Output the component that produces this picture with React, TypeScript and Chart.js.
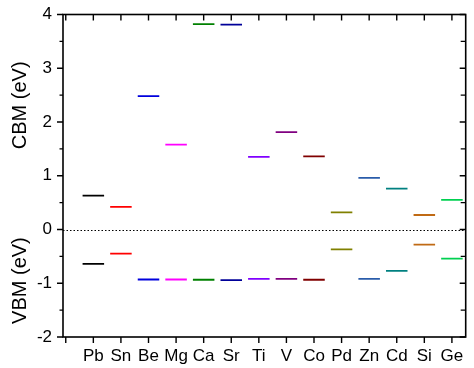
import React, { useEffect, useRef } from "react";
import { Chart, registerables } from "chart.js";

Chart.register(...registerables);

const elements = ["Pb", "Sn", "Be", "Mg", "Ca", "Sr", "Ti", "V", "Co", "Pd", "Zn", "Cd", "Si", "Ge"];
const cbm = [0.63, 0.42, 2.48, 1.58, 3.82, 3.81, 1.35, 1.81, 1.36, 0.32, 0.96, 0.76, 0.27, 0.55];
const vbm = [-0.64, -0.45, -0.93, -0.93, -0.935, -0.94, -0.92, -0.92, -0.935, -0.37, -0.92, -0.77, -0.28, -0.54];
const colors = [
  "#000000", "#ff0000", "#0000dd", "#ff00ff", "#008000", "#000099", "#8000ff",
  "#800080", "#800000", "#808000", "#2a5caa", "#008080", "#c06a14", "#00d050",
];
const yTicks = [-2, -1, 0, 1, 2, 3, 4];

const HALF = 0.39;
const FONT = "'Liberation Sans', Arial, sans-serif";

export default function App() {
  const ref = useRef<HTMLCanvasElement | null>(null);

  useEffect(() => {
    if (!ref.current) return;
    const datasets: any[] = [];
    elements.forEach((_, i) => {
      [cbm[i], vbm[i]].forEach((v) => {
        datasets.push({
          type: "line",
          data: [
            { x: i + 1 - HALF, y: v },
            { x: i + 1 + HALF, y: v },
          ],
          borderColor: colors[i],
          borderWidth: 1.8,
          pointRadius: 0,
          fill: false,
        });
      });
    });

    const framePlugin = {
      id: "frame",
      afterDraw(chart: any) {
        const ctx = chart.ctx;
        const { left, right, top, bottom } = chart.chartArea;
        const xs = chart.scales.x;
        const ys = chart.scales.y;
        ctx.save();
        // dotted zero line
        ctx.strokeStyle = "#000";
        ctx.lineWidth = 1;
        ctx.setLineDash([1.5, 2]);
        const y0 = Math.round(ys.getPixelForValue(0)) + 0.5;
        ctx.beginPath();
        ctx.moveTo(left, y0);
        ctx.lineTo(right, y0);
        ctx.stroke();
        ctx.setLineDash([]);
        // frame
        ctx.lineWidth = 1.6;
        ctx.strokeRect(left, top, right - left, bottom - top);
        // x ticks
        ctx.lineWidth = 1.4;
        ctx.beginPath();
        for (let i = 0; i <= elements.length; i++) {
          const px = xs.getPixelForValue(i);
          ctx.moveTo(px, bottom);
          ctx.lineTo(px, bottom + 6);
          ctx.moveTo(px, top);
          ctx.lineTo(px, top + 6);
        }
        // y ticks
        for (let v = -2; v <= 4; v += 0.5) {
          const py = ys.getPixelForValue(v);
          const major = Number.isInteger(v);
          const len = major ? 6 : 3.5;
          ctx.moveTo(left, py);
          ctx.lineTo(left - len, py);
          ctx.moveTo(right, py);
          ctx.lineTo(right - (major ? 6 : 5), py);
        }
        ctx.stroke();
        // axis titles
        ctx.fillStyle = "#000";
        ctx.font = `20px ${FONT}`;
        ctx.textAlign = "center";
        ctx.textBaseline = "middle";
        const titles: [string, number][] = [
          ["CBM (eV)", 2.31],
          ["VBM (eV)", -0.95],
        ];
        titles.forEach(([t, v]) => {
          ctx.save();
          ctx.translate(20, ys.getPixelForValue(v));
          ctx.rotate(-Math.PI / 2);
          ctx.fillText(t, 0, 0);
          ctx.restore();
        });
        ctx.restore();
      },
    };

    const chart = new Chart(ref.current, {
      type: "line",
      data: { datasets },
      options: {
        animation: false,
        responsive: true,
        maintainAspectRatio: false,
        layout: { padding: { left: 0, right: 8.3, top: 14.5, bottom: 0 } },
        plugins: { legend: { display: false }, tooltip: { enabled: false } },
        scales: {
          x: {
            type: "linear",
            min: -0.1,
            max: 14.5,
            grid: { display: false, drawTicks: false },
            border: { display: false },
            afterFit: (s: any) => {
              s.height = 31;
              s.paddingLeft = 0;
              s.paddingRight = 0;
            },
            afterBuildTicks: (s: any) => {
              s.ticks = [];
              for (let i = 1; i <= elements.length; i++) s.ticks.push({ value: i });
            },
            ticks: {
              autoSkip: false,
              maxRotation: 0,
              padding: 9,
              color: "#000",
              font: { family: FONT, size: 17 },
              callback: (v: any) => elements[Number(v) - 1] ?? "",
            },
          },
          y: {
            type: "linear",
            min: -2,
            max: 4,
            grid: { display: false, drawTicks: false },
            border: { display: false },
            afterFit: (s: any) => {
              s.width = 63;
              s.paddingTop = 0;
              s.paddingBottom = 0;
            },
            afterBuildTicks: (s: any) => {
              s.ticks = yTicks.map((v) => ({ value: v }));
            },
            ticks: {
              padding: 11,
              color: "#000",
              font: { family: FONT, size: 17 },
              callback: (v: any) => String(v),
            },
          },
        },
      },
      plugins: [framePlugin],
    } as any);
    return () => chart.destroy();
  }, []);

  return (
    <div style={{ position: "fixed", left: 0, top: 0, width: 474, height: 368, background: "#fff" }}>
      <canvas ref={ref} />
    </div>
  );
}
